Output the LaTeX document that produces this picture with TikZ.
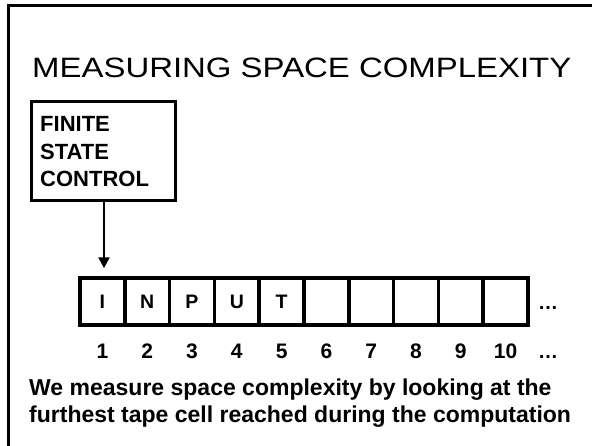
\documentclass[tikz,border=0pt]{standalone}
\usepackage{fontspec}
\usepackage{graphicx}
\setmainfont{Liberation Sans}
\usetikzlibrary{arrows.meta,calc}
\begin{document}
\begin{tikzpicture}[x=1pt,y=-1pt,
  frameline/.style={line width=2.8pt},
  fscbox/.style={draw, line width=3.5pt, minimum width=144pt, minimum height=99pt, inner sep=0pt},
  fsctext/.style={anchor=north west, inner sep=0pt, align=left, font=\fontsize{22}{27.5}\bfseries\selectfont},
  cell/.style={draw, line width=3.5pt, minimum width=44.8pt, minimum height=47pt, inner sep=0pt, font=\fontsize{19.5}{22}\bfseries\selectfont},
  num/.style={anchor=base, inner sep=0pt, font=\fontsize{21}{24}\bfseries\selectfont},
  dotsstyle/.style={anchor=base west, inner sep=0pt, font=\fontsize{20}{24}\bfseries\selectfont},
  caption/.style={anchor=base west, inner sep=0pt, font=\fontsize{23}{27}\bfseries\selectfont},
  arrowline/.style={line width=2.5pt, -{Triangle[width=11pt,length=11pt]}}
]
\useasboundingbox (0,0) rectangle (592,445);
% outer frame (left and top edges)
\draw[frameline] (8.5,446) -- (8.5,5.8) -- (593,5.8);
% title
\node[anchor=base west, inner sep=0pt, font=\fontsize{28}{32}\selectfont] (title) at (32,77.3)
  {\scalebox{1.176}[1]{MEASURING SPACE COMPLEXITY}};
% finite state control
\node[fscbox] (fsc) at (103.5,151) {};
\node[fsctext] (fsclabel) at (40,116.5) {FINITE\\STATE\\CONTROL};
% tape
\foreach \i/\t in {1/I,2/N,3/P,4/U,5/T,6/,7/,8/,9/,10/} {
  \node[cell] (c\i) at ({102.4+44.8*(\i-1)},301.5) {\t};
  \node[num] (n\i) at ({102.4+44.8*(\i-1)},358) {\i};
}
\node[dotsstyle] (tapedots) at (538,309) {…};
\node[dotsstyle] (numdots) at (538,358) {…};
% head arrow
\coordinate (ax) at (104,0);
\draw[arrowline] (fsc.south -| ax) -- ($(ax |- c1.north)+(0,-8)$);
% caption
\node[caption] (cap1) at (29,395) {We measure space complexity by looking at the};
\node[caption] (cap2) at (29,422) {furthest tape cell reached during the computation};
\end{tikzpicture}
\end{document}
